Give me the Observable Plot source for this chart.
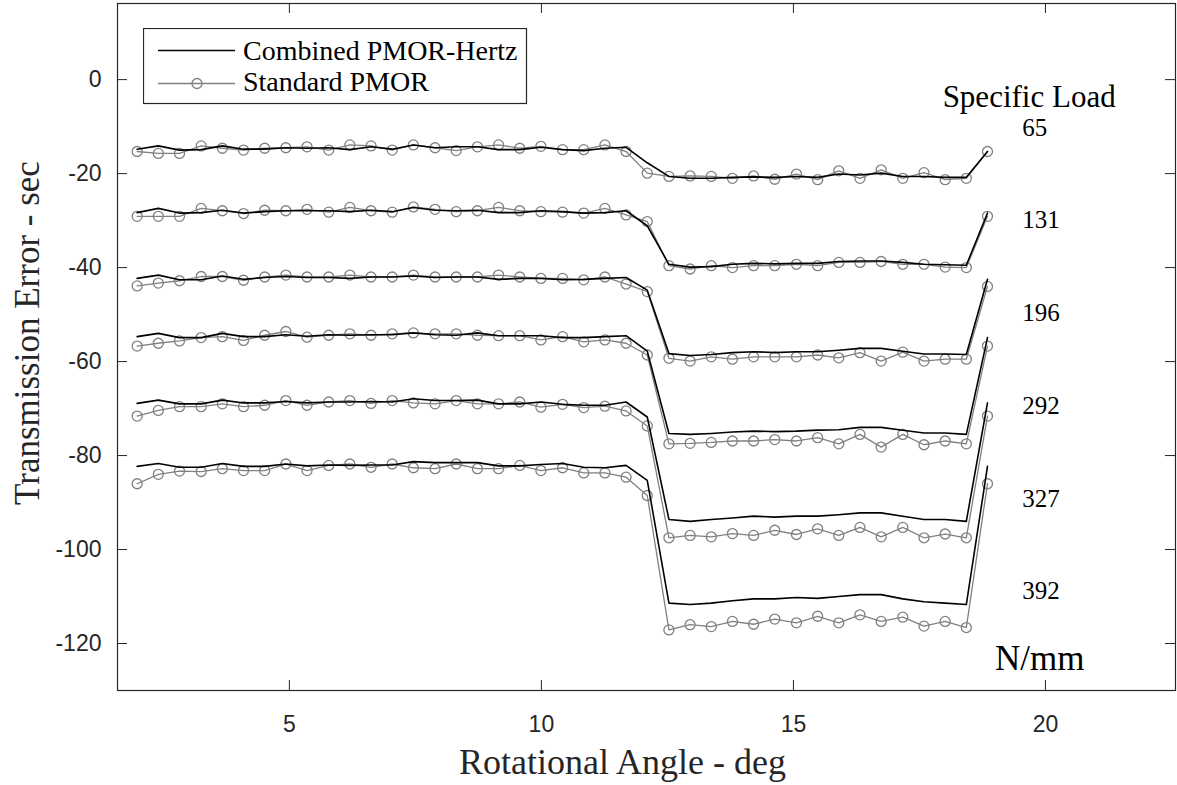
<!DOCTYPE html>
<html>
<head>
<meta charset="utf-8">
<script src="https://cdn.jsdelivr.net/npm/d3@7"></script>
<script src="https://cdn.jsdelivr.net/npm/@observablehq/plot@0.6"></script>
<style>
  html, body { margin: 0; padding: 0; background: #fff; }
  #wrap { position: relative; width: 1177px; height: 785px; }
  #legend { position: absolute; left: 143px; top: 28px; }
</style>
</head>
<body>
<div id="wrap"></div>
<script>
// ---------- data ----------
const angle = [1.98, 2.40, 2.82, 3.25, 3.67, 4.09, 4.51, 4.93, 5.35, 5.78, 6.20, 6.62, 7.04, 7.46, 7.89, 8.31, 8.73, 9.15, 9.57, 9.99,
  10.42, 10.84, 11.26, 11.68, 12.10, 12.53, 12.95, 13.37, 13.79, 14.21, 14.63, 15.06, 15.48, 15.90, 16.32, 16.74, 17.17, 17.59, 18.01, 18.43, 18.85];

const loads = ["65", "131", "196", "292", "327", "392"];

// Combined PMOR-Hertz (black)
const hertz65 = [-14.8, -14.1, -15.0, -14.9, -14.1, -14.8, -14.8, -14.5, -14.6, -14.5, -14.9, -14.3, -14.8, -13.9, -14.5, -14.3, -14.3, -14.9, -14.9,
  -14.4, -14.9, -15.1, -14.6, -14.4, -17.7, -20.6, -21.0, -21.0, -20.8, -20.7, -20.8, -20.6, -20.8, -20.1, -20.3, -19.9, -20.6, -20.6, -20.8, -20.8, -15.3];
const hertz131 = [-28.3, -27.4, -28.4, -28.3, -27.8, -28.4, -28.1, -27.9, -27.9, -27.9, -28.1, -27.8, -28.1, -27.2, -27.8, -27.9, -27.8, -28.3, -28.3,
  -27.9, -28.1, -28.4, -28.3, -27.9, -31.1, -39.3, -39.9, -39.8, -39.3, -39.1, -39.2, -39.1, -39.1, -38.7, -38.6, -38.6, -38.9, -39.3, -39.4, -39.5, -28.4];
const hertz196 = [-42.3, -41.6, -42.6, -42.6, -41.8, -42.5, -42.1, -41.9, -42.1, -42.1, -42.3, -42.0, -42.0, -41.8, -42.1, -42.0, -42.0, -42.5, -42.3,
  -42.3, -42.6, -42.5, -42.3, -42.1, -44.8, -58.3, -58.7, -58.5, -58.1, -57.9, -58.1, -57.9, -57.9, -57.6, -57.2, -57.2, -57.8, -58.4, -58.4, -58.5, -42.5];
const hertz292 = [-54.7, -54.0, -54.9, -54.9, -54.0, -54.7, -54.7, -54.3, -54.6, -54.3, -54.4, -54.3, -54.3, -53.9, -54.3, -54.4, -53.9, -54.5, -54.5,
  -54.5, -54.9, -54.9, -54.7, -54.5, -57.8, -75.3, -75.5, -75.3, -75.0, -74.8, -74.9, -74.8, -74.6, -74.5, -74.0, -74.0, -74.6, -75.2, -75.2, -75.5, -54.9];
const hertz327 = [-68.9, -68.2, -69.0, -69.0, -68.2, -68.8, -68.8, -68.5, -68.8, -68.6, -68.6, -68.5, -68.6, -67.9, -68.3, -68.3, -68.2, -69.0, -69.0,
  -68.6, -69.1, -69.3, -69.3, -68.6, -71.8, -93.6, -94.0, -93.6, -93.3, -92.9, -93.1, -92.9, -92.9, -92.6, -92.2, -92.2, -92.9, -93.6, -93.6, -94.0, -68.8];
const hertz392 = [-82.3, -81.7, -82.5, -82.5, -81.7, -82.3, -82.3, -81.8, -82.2, -82.0, -82.1, -82.0, -82.0, -81.3, -81.5, -81.5, -81.5, -82.2, -82.2,
  -81.9, -81.7, -82.5, -82.6, -82.1, -85.3, -111.4, -111.7, -111.4, -110.9, -110.5, -110.5, -110.2, -110.4, -110.0, -109.6, -109.6, -110.5, -111.1, -111.4, -111.7, -82.3];

// Standard PMOR (grey, circles)
const pmor65 = [-15.3, -15.7, -15.7, -14.1, -14.6, -15.0, -14.6, -14.5, -14.3, -15.0, -13.9, -14.1, -15.0, -13.9, -14.5, -15.1, -14.3, -13.9, -14.6,
  -14.2, -14.9, -14.9, -13.9, -15.3, -19.9, -20.6, -20.5, -20.6, -21.0, -20.5, -21.2, -20.1, -21.3, -19.4, -21.0, -19.2, -21.0, -19.8, -21.3, -21.0, -15.3];
const pmor131 = [-29.1, -29.1, -29.1, -27.4, -27.9, -28.5, -27.8, -27.9, -27.6, -28.2, -27.2, -27.9, -28.2, -27.1, -27.6, -28.1, -27.9, -27.2, -27.9,
  -28.1, -28.2, -28.4, -27.4, -28.8, -30.2, -39.6, -40.3, -39.6, -40.0, -39.6, -39.6, -39.3, -39.6, -38.9, -38.9, -38.7, -39.3, -39.3, -39.9, -40.0, -29.1];
const pmor196 = [-43.9, -43.3, -42.8, -41.9, -41.9, -42.7, -42.0, -41.6, -42.0, -42.0, -41.6, -42.0, -42.0, -41.6, -42.0, -42.0, -42.0, -41.6, -42.0,
  -42.3, -42.3, -42.6, -42.0, -43.5, -45.1, -59.3, -59.9, -59.0, -59.5, -59.0, -59.0, -59.0, -58.6, -59.2, -58.1, -59.9, -58.0, -59.9, -59.5, -59.5, -44.0];
const pmor292 = [-56.7, -56.1, -55.6, -54.9, -54.7, -55.5, -54.4, -53.6, -54.8, -54.4, -54.1, -54.4, -54.1, -53.9, -54.1, -54.1, -54.4, -54.5, -54.5,
  -55.4, -54.7, -55.8, -55.4, -56.1, -58.6, -77.5, -77.4, -77.2, -76.9, -76.9, -76.6, -76.9, -76.2, -77.5, -75.5, -78.2, -75.5, -77.7, -76.9, -77.5, -56.7];
const pmor327 = [-71.6, -70.4, -69.6, -69.6, -69.0, -69.6, -69.3, -68.3, -69.3, -68.6, -68.3, -68.9, -68.3, -68.8, -69.0, -68.3, -69.0, -69.0, -68.6,
  -69.7, -69.1, -69.8, -69.5, -70.5, -73.7, -97.5, -97.0, -97.3, -96.6, -97.0, -95.9, -96.8, -95.6, -97.0, -95.3, -97.3, -95.3, -97.5, -96.7, -97.5, -71.6];
const pmor392 = [-86.0, -84.0, -83.3, -83.4, -82.8, -83.2, -83.2, -81.8, -83.2, -82.1, -81.8, -82.5, -81.8, -82.6, -82.8, -81.8, -82.8, -82.8, -82.1,
  -83.2, -82.6, -83.7, -83.7, -84.6, -88.5, -117.1, -116.0, -116.4, -115.3, -115.9, -114.8, -115.6, -114.2, -115.6, -113.9, -115.3, -114.4, -116.3, -115.3, -116.6, -86.0];

// annotation labels
const loadLabelY = [-10.4, -29.8, -49.6, -69.4, -89.3, -108.9];
const loadLabelX = 19.54;
const headerText = "Specific Load";
const headerX = 17.96;
const headerY = -3.8;
const unitText = "N/mm";
const unitX = 19.0;
const unitY = -123.2;

const xTicks = [5, 10, 15, 20];
const yTicks = [-120, -100, -80, -60, -40, -20, 0];
const xDomain = [1.59, 22.58];
const yDomain = [-130, 16.2];

const xLabel = "Rotational Angle - deg";
const yLabel = "Transmission Error - sec";
const legendNames = ["Combined PMOR-Hertz", "Standard PMOR"];

// ---------- build tables ----------
const hertzSeries = [hertz65, hertz131, hertz196, hertz292, hertz327, hertz392];
const pmorSeries = [pmor65, pmor131, pmor196, pmor292, pmor327, pmor392];
const hertzRows = [], pmorRows = [];
loads.forEach((L, k) => {
  angle.forEach((a, i) => {
    hertzRows.push({load: L, angle: a, value: hertzSeries[k][i]});
    pmorRows.push({load: L, angle: a, value: pmorSeries[k][i]});
  });
});
const loadLabels = loads.map((L, k) => ({text: L, x: loadLabelX, y: loadLabelY[k]}));

const W = 1177, H = 785;
const mL = 117, mR = 2, mT = 3, mB = 95;
const plotW = W - mL - mR, plotH = H - mT - mB;
const axisColor = "#262626";
const grey = "#808080";
const serif = "'Liberation Serif', 'Times New Roman', serif";
const sans = "'Liberation Sans', Arial, Helvetica, sans-serif";

const chart = Plot.plot({
  width: W, height: H,
  marginLeft: mL, marginRight: mR, marginTop: mT, marginBottom: mB,
  style: {fontFamily: sans, fontSize: "23px", color: axisColor, background: "white", overflow: "visible"},
  x: {domain: xDomain},
  y: {domain: yDomain},
  marks: [
    // tick labels
    Plot.axisX({ticks: xTicks, tickSize: 0, tickPadding: 25, label: null, fontSize: 23, fontFamily: sans, fill: axisColor}),
    Plot.axisY({ticks: yTicks, tickSize: 0, tickPadding: 16, label: null, tickFormat: d => String(d), fontSize: 23, fontFamily: sans, fill: axisColor}),
    // inward tick marks on all four sides
    Plot.tickX(xTicks, {x: d => d, insetTop: plotH - 10, stroke: axisColor, strokeWidth: 1}),
    Plot.tickX(xTicks, {x: d => d, insetBottom: plotH - 10, stroke: axisColor, strokeWidth: 1}),
    Plot.tickY(yTicks, {y: d => d, insetRight: plotW - 10, stroke: axisColor, strokeWidth: 1}),
    Plot.tickY(yTicks, {y: d => d, insetLeft: plotW - 10, stroke: axisColor, strokeWidth: 1}),
    // data
    Plot.line(pmorRows, {x: "angle", y: "value", z: "load", stroke: grey, strokeWidth: 1.3}),
    Plot.dot(pmorRows, {x: "angle", y: "value", r: 5, stroke: grey, strokeWidth: 1.3, fill: "none"}),
    Plot.line(hertzRows, {x: "angle", y: "value", z: "load", stroke: "black", strokeWidth: 1.6}),
    // annotations
    Plot.text([headerText], {x: headerX, y: headerY, text: d => d, textAnchor: "start", fontFamily: serif, fontSize: 31, fill: "black"}),
    Plot.text(loadLabels, {x: "x", y: "y", text: "text", textAnchor: "start", fontFamily: serif, fontSize: 25, fill: "black"}),
    Plot.text([unitText], {x: unitX, y: unitY, text: d => d, textAnchor: "start", fontFamily: serif, fontSize: 35, fill: "black"}),
    // axis titles
    Plot.text([xLabel], {frameAnchor: "bottom", dx: -24, dy: 72, lineAnchor: "middle", textAnchor: "middle", text: d => d, fontFamily: serif, fontSize: 36, fill: axisColor}),
    Plot.text([yLabel], {frameAnchor: "left", dx: -90, dy: -14, rotate: -90, lineAnchor: "middle", textAnchor: "middle", text: d => d, fontFamily: serif, fontSize: 35, fill: axisColor}),
    Plot.frame({stroke: axisColor, strokeWidth: 1.2})
  ]
});
document.getElementById("wrap").appendChild(chart);

// legend overlay
const lg = d3.select("#wrap").append("svg")
  .attr("id", "legend").attr("width", 385).attr("height", 77);
lg.append("rect").attr("x", 0.5).attr("y", 0.5).attr("width", 383).attr("height", 75)
  .attr("fill", "white").attr("stroke", axisColor).attr("stroke-width", 1.2);
lg.append("line").attr("x1", 15).attr("x2", 92).attr("y1", 22.5).attr("y2", 22.5)
  .attr("stroke", "black").attr("stroke-width", 1.6);
lg.append("line").attr("x1", 15).attr("x2", 92).attr("y1", 55.5).attr("y2", 55.5)
  .attr("stroke", grey).attr("stroke-width", 1.3);
lg.append("circle").attr("cx", 54).attr("cy", 55.5).attr("r", 5)
  .attr("fill", "none").attr("stroke", grey).attr("stroke-width", 1.3);
lg.append("text").attr("x", 100).attr("y", 32).text(legendNames[0])
  .attr("font-family", serif).attr("font-size", 28).attr("fill", "black");
lg.append("text").attr("x", 100).attr("y", 63).text(legendNames[1])
  .attr("font-family", serif).attr("font-size", 28).attr("fill", "black");
</script>
</body>
</html>
